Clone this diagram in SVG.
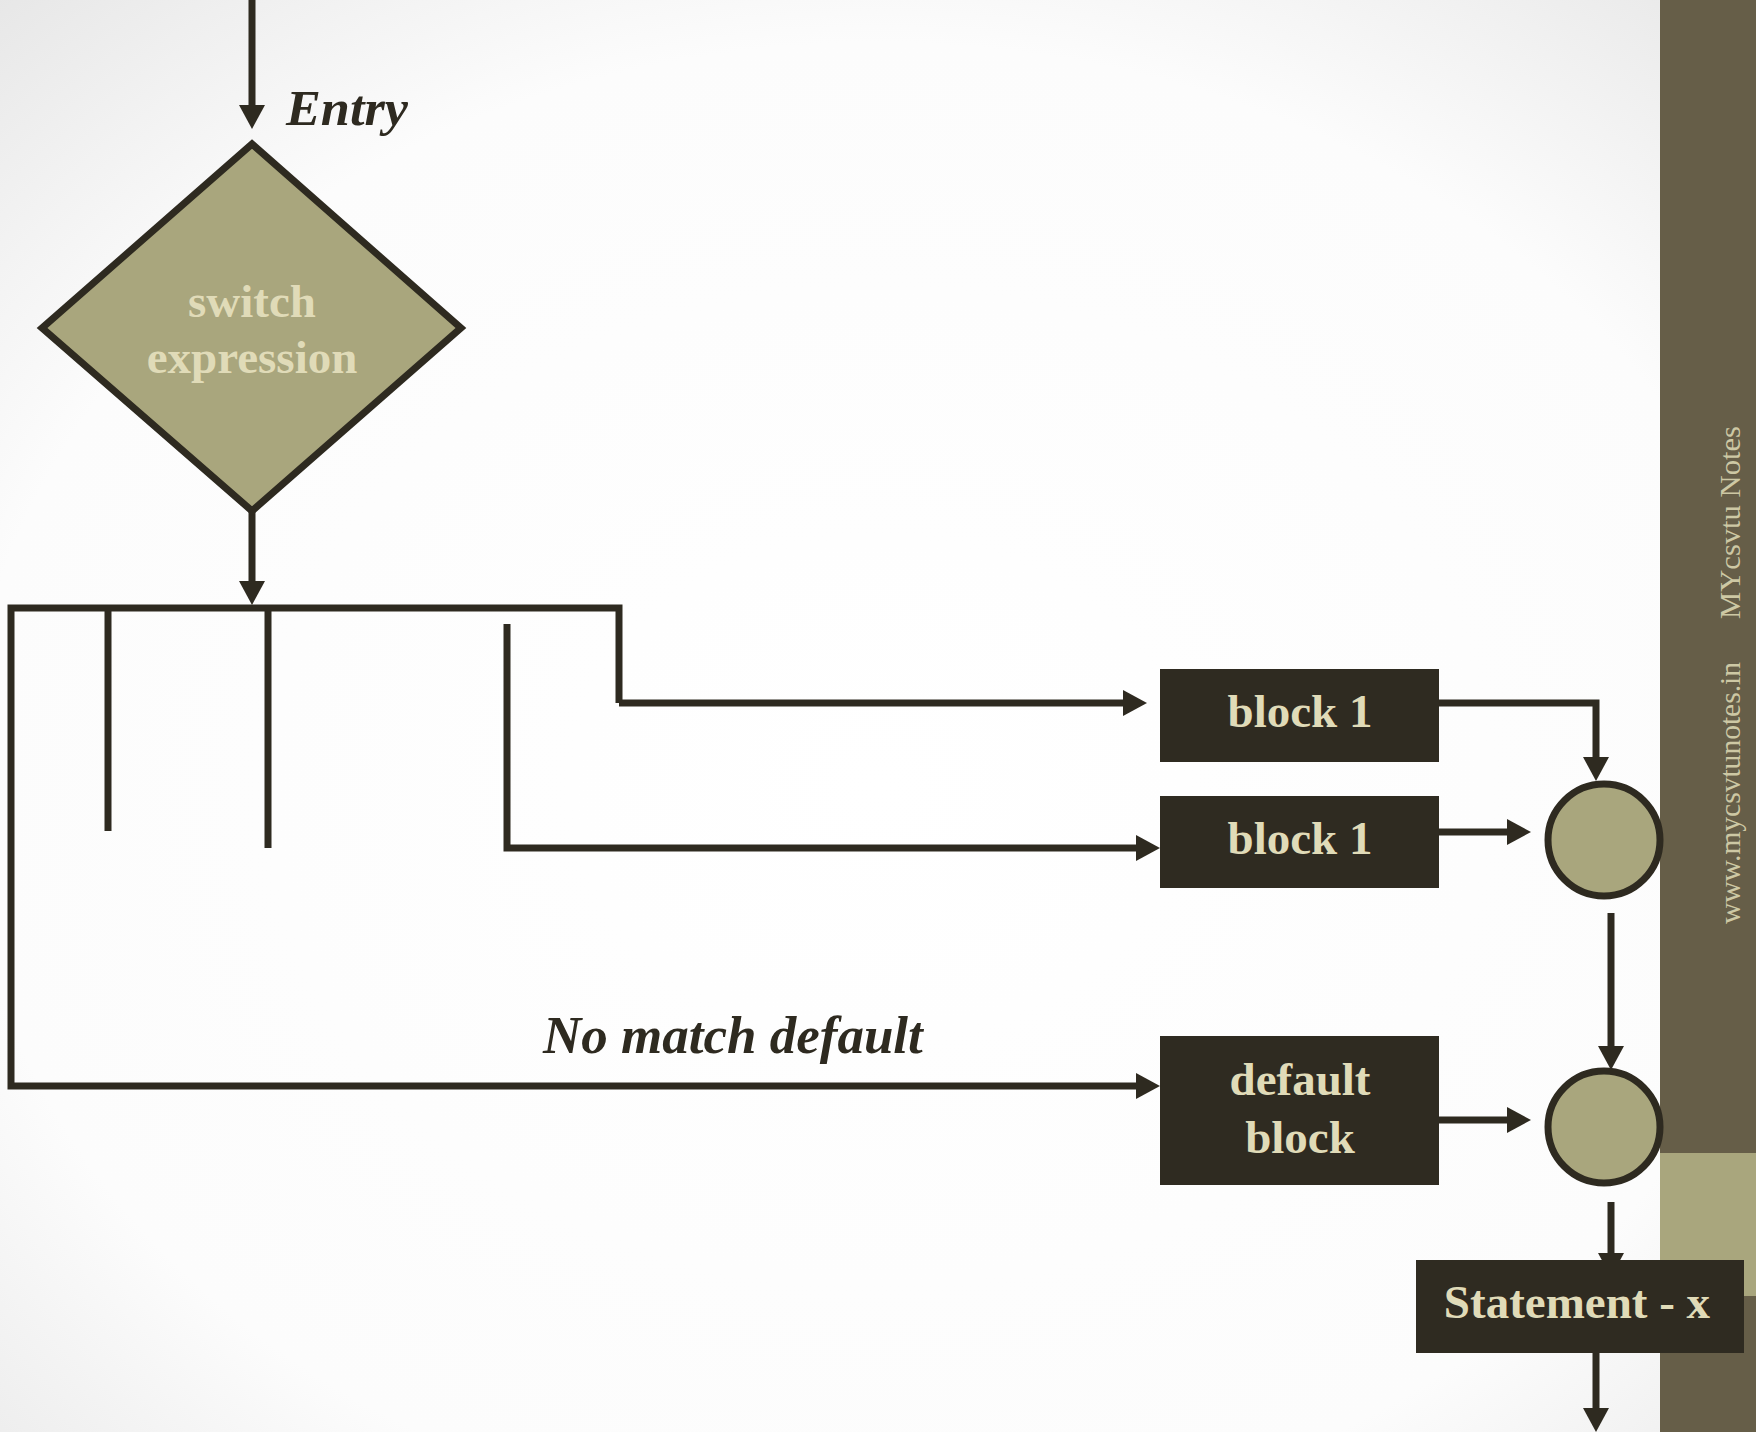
<svg xmlns="http://www.w3.org/2000/svg" width="1756" height="1432" viewBox="0 0 1756 1432">
  <defs>
    <radialGradient id="bg" cx="0.5" cy="0.55" r="0.8">
      <stop offset="0" stop-color="#ffffff"/>
      <stop offset="0.65" stop-color="#fcfcfc"/>
      <stop offset="1" stop-color="#e2e2e2"/>
    </radialGradient>
    <marker id="arrow" viewBox="0 0 24 26" markerWidth="24" markerHeight="26" refX="11" refY="13" orient="auto" markerUnits="userSpaceOnUse">
      <path d="M0,0 L24,13 L0,26 z" fill="#2e2a20"/>
    </marker>
    <style>
      .wire { fill: none; stroke: #2e2a20; stroke-width: 7; stroke-linejoin: miter; }
      .arr { marker-end: url(#arrow); }
      .box { fill: #2f2b21; }
      .label { font-family: "Liberation Serif", "Times New Roman", serif; font-weight: bold; font-size: 47px; fill: #e0dbb8; text-anchor: middle; }
      .note { font-family: "Liberation Serif", "Times New Roman", serif; font-weight: bold; font-style: italic; fill: #2e2a20; }
      .merge { fill: #a9a67d; stroke: #2e2a20; stroke-width: 7; }
      .mark { font-family: "Liberation Serif", "Times New Roman", serif; font-size: 29px; fill: #cdc8a4; }
    </style>
  </defs>

  <!-- slide background and side band -->
  <rect x="0" y="0" width="1756" height="1432" fill="url(#bg)"/>
  <rect x="1660" y="0" width="96" height="1432" fill="#665e48"/>
  <rect x="1660" y="1153" width="96" height="143" fill="#a9a67d"/>
  <text class="mark" transform="translate(1740,924) rotate(-90)" textLength="262" lengthAdjust="spacingAndGlyphs">www.mycsvtunotes.in</text>
  <text class="mark" transform="translate(1740,619) rotate(-90)" textLength="193" lengthAdjust="spacingAndGlyphs">MYcsvtu Notes</text>

  <!-- connectors -->
  <g id="connectors">
    <path class="wire arr" d="M252,0 V116"/>
    <path class="wire arr" d="M252,512 V592"/>
    <path class="wire arr" d="M619,703 V608 H11 V1086 H1147"/>
    <path class="wire arr" d="M619,703 H1134"/>
    <path class="wire" d="M108,608 V831"/>
    <path class="wire" d="M268,608 V848"/>
    <path class="wire arr" d="M507,624 V848 H1147"/>
    <path class="wire arr" d="M1439,703 H1596 V768"/>
    <path class="wire arr" d="M1439,832 H1518"/>
    <path class="wire arr" d="M1611,913 V1057"/>
    <path class="wire arr" d="M1439,1120 H1518"/>
    <path class="wire arr" d="M1611,1202 V1264"/>
    <path class="wire arr" d="M1596,1353 V1419"/>
  </g>

  <text class="note" x="286" y="125" font-size="50" textLength="122" lengthAdjust="spacingAndGlyphs">Entry</text>
  <text class="note" x="543" y="1053" font-size="53">No match default</text>

  <g id="switch">
    <polygon points="252,144 461,328 252,511 42,328" fill="#a9a67d" stroke="#2e2a20" stroke-width="7"/>
    <text class="label" x="252" y="317">switch</text>
    <text class="label" x="252" y="373">expression</text>
  </g>

  <g id="block1a">
    <rect class="box" x="1160" y="669" width="279" height="93"/>
    <text class="label" x="1300" y="727">block 1</text>
  </g>

  <g id="block1b">
    <rect class="box" x="1160" y="796" width="279" height="92"/>
    <text class="label" x="1300" y="854">block 1</text>
  </g>

  <g id="default-block">
    <rect class="box" x="1160" y="1036" width="279" height="149"/>
    <text class="label" x="1300" y="1095">default</text>
    <text class="label" x="1300" y="1153">block</text>
  </g>

  <g id="merge1">
    <circle class="merge" cx="1604" cy="840" r="56"/>
  </g>

  <g id="merge2">
    <circle class="merge" cx="1604" cy="1127" r="56"/>
  </g>

  <g id="statement-x">
    <rect class="box" x="1416" y="1260" width="328" height="93"/>
    <text class="label" x="1577" y="1318" font-size="48">Statement - x</text>
  </g>
</svg>
